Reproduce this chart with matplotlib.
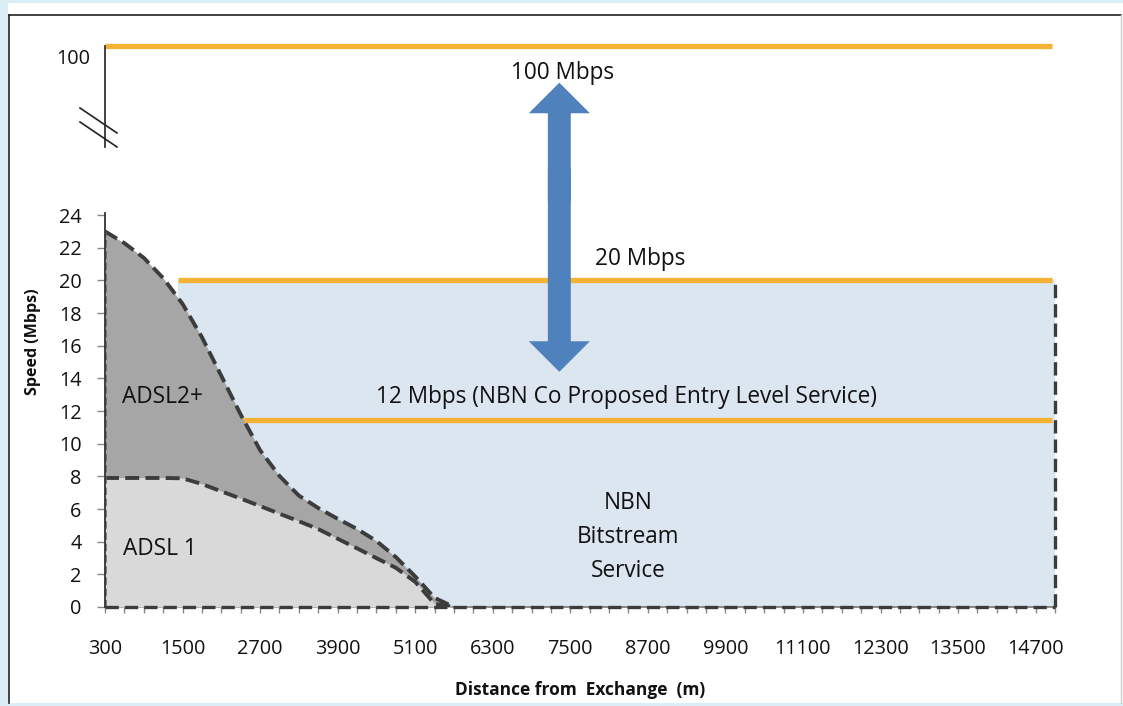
import matplotlib
matplotlib.use("Agg")
import matplotlib.pyplot as plt
import numpy as np
from matplotlib.patches import Rectangle, FancyArrowPatch
from matplotlib.lines import Line2D
from matplotlib.transforms import ScaledTranslation

plt.rcParams['font.family'] = ['Open Sans', 'DejaVu Sans']

# ---------------- data ----------------
distance = [300, 600, 900, 1200, 1500, 1800, 2100, 2400, 2700, 3000,
            3300, 3600, 3900, 4200, 4500, 4800, 5100, 5400, 5700]
adsl2plus = [23.0, 22.28, 21.38, 20.14, 18.56, 16.52, 14.15, 11.78, 9.6, 8.02,
             6.82, 6.06, 5.40, 4.78, 4.04, 3.06, 1.87, 0.56, 0.0]
adsl1 = [7.9, 7.9, 7.9, 7.9, 7.88, 7.53, 7.08, 6.64, 6.18, 5.71,
         5.25, 4.77, 4.18, 3.59, 2.99, 2.40, 1.54, 0.2, 0.0]

nbn_start, nbn_end = 1430, 15000
nbn_top = 20
level_12_start, level_12 = 2390, 11.45
level_20 = 20
level_100 = 100
arrow_x, arrow_low, arrow_high = 7330, 14.4, 83.5

x_tick_labels = [300, 1500, 2700, 3900, 5100, 6300, 7500, 8700, 9900,
                 11100, 12300, 13500, 14700]
y_ticks = [0, 2, 4, 6, 8, 10, 12, 14, 16, 18, 20, 22, 24, 100]

# ---------------- colours ----------------
ORANGE = '#F5B335'
BLUE_FILL = '#DCE6F1'
DARK_FILL = '#A6A6A6'
LIGHT_FILL = '#D9D9D9'
DASH = '#3C3C3C'
ARROW = '#4F81BD'
FRAME_BG = '#DCEEF5'

W, H = 1123, 706
fig = plt.figure(figsize=(W / 100, H / 100), dpi=100, facecolor='white')

def fx(px):
    return px / W

def fy(py):
    return 1 - py / H

# outer frame
fig.patches.append(Rectangle((0, 0), fx(8), 1, transform=fig.transFigure,
                             facecolor=FRAME_BG, edgecolor='none', zorder=0))
fig.patches.append(Rectangle((0, fy(3)), 1, 1 - fy(3), transform=fig.transFigure,
                             facecolor=FRAME_BG, edgecolor='none', zorder=0))
fig.patches.append(Rectangle((0, 0), 1, fy(703), transform=fig.transFigure,
                             facecolor=FRAME_BG, edgecolor='none', zorder=0))
fig.lines.append(Line2D([fx(9), fx(9)], [fy(15), fy(703)], transform=fig.transFigure,
                        color='#222222', lw=1.2))
fig.lines.append(Line2D([fx(9), fx(1121)], [fy(15), fy(15)], transform=fig.transFigure,
                        color='#222222', lw=1.2))
fig.lines.append(Line2D([fx(1121), fx(1121)], [fy(15), fy(703)], transform=fig.transFigure,
                        color='#CCCCCC', lw=1.0))

# axes
ax = fig.add_axes([fx(105), fy(607), fx(1055) - fx(105), fy(46) - fy(607)])
ax.set_facecolor('none')

K = 10.35 / 76.0

def fwd(y):
    y = np.asarray(y, dtype=float)
    return np.where(y <= 24, y, 24 + (y - 24) * K)

def inv(y):
    y = np.asarray(y, dtype=float)
    return np.where(y <= 24, y, 24 + (y - 24) / K)

ax.set_yscale('function', functions=(fwd, inv))
ax.set_xlim(300, 15000)
ax.set_ylim(0, 100)

# NBN region
ax.add_patch(Rectangle((nbn_start, 0), nbn_end - nbn_start, nbn_top,
                       facecolor=BLUE_FILL, edgecolor='none', zorder=1))
ax.plot([nbn_end, nbn_end], [0, nbn_top], color=DASH, lw=2.4,
        dashes=(4, 1.8), zorder=4, clip_on=False)

# orange service levels
ax.plot([nbn_start, nbn_end - 40], [level_20, level_20], color=ORANGE, lw=3.8,
        solid_capstyle='butt', zorder=3)
ax.plot([level_12_start, nbn_end - 40], [level_12, level_12], color=ORANGE, lw=3.8,
        solid_capstyle='butt', zorder=2)
ax.plot([300, nbn_end - 40], [level_100, level_100], color=ORANGE, lw=3.8,
        solid_capstyle='butt', zorder=3, clip_on=False)

# ADSL areas
ax.fill_between(distance, adsl1, adsl2plus, color=DARK_FILL, lw=0, zorder=3)
ax.fill_between(distance, 0, adsl1, color=LIGHT_FILL, lw=0, zorder=3)
ax.plot(distance, adsl2plus, color=DASH, lw=2.8, dashes=(3.6, 1.6), zorder=5,
        dash_joinstyle='round')
ax.plot(distance, adsl1, color=DASH, lw=2.8, dashes=(3.6, 1.6), zorder=5,
        dash_joinstyle='round')
ax.plot([300, 300], [0, adsl2plus[0]], color='#606060', lw=1.8, dashes=(3, 1.5), zorder=5)
ax.plot([300, nbn_end], [0, 0], color=DASH, lw=2.4, dashes=(4, 1.8), zorder=6, clip_on=False)

# double arrow (two overlapping halves)
for ystart, yend in ((45, arrow_low), (30, arrow_high)):
    ax.add_patch(FancyArrowPatch((arrow_x, ystart), (arrow_x, yend),
                                 arrowstyle='simple,head_length=2.2,head_width=4.4,tail_width=1.65',
                                 mutation_scale=10, color=ARROW, lw=0,
                                 shrinkA=0, shrinkB=0, zorder=7, clip_on=False))

# axes spines
for s in ('top', 'right', 'left'):
    ax.spines[s].set_visible(False)
ax.spines['bottom'].set_color('#777777')
ax.spines['bottom'].set_linewidth(1.2)
yax = ax.get_yaxis_transform()
ax.plot([0, 0], [0, 24.9], transform=yax, color='#333333', lw=1.3, clip_on=False, zorder=8)
ax.plot([0, 0], [54.6, 100], transform=yax, color='#333333', lw=1.3, clip_on=False, zorder=8)

# break marks (figure pixels)
for off in (0, 14):
    fig.lines.append(Line2D([fx(80), fx(117)], [fy(108 + off), fy(133 + off)],
                            transform=fig.transFigure, color='#222222', lw=1.2))

# ticks
xt = list(range(300, 15001, 300))
ax.set_xticks(xt)
ax.set_xticklabels([str(v) if v in x_tick_labels else '' for v in xt])
ax.set_yticks(y_ticks)
ax.set_yticklabels([str(v) for v in y_ticks])
ax.tick_params(axis='x', length=4, width=1, color='#888888', pad=19,
               labelsize=14.3, labelcolor='#111111')
ax.tick_params(axis='y', length=6, width=1, color='#888888', pad=11,
               labelsize=14.3, labelcolor='#111111')
ax.yaxis.get_major_ticks()[-1].tick1line.set_visible(False)
lab100 = ax.get_yticklabels()[-1]
lab100.set_transform(lab100.get_transform() +
                     ScaledTranslation(0.09, -0.10, fig.dpi_scale_trans))

# texts
tk = dict(color='#111111', ha='center', va='center')
fs = 16.3
fig.text(fx(563), fy(73), '100 Mbps', fontsize=fs, **tk)
fig.text(fx(640), fy(259), '20 Mbps', fontsize=fs, **tk)
fig.text(fx(626), fy(397), '12 Mbps (NBN Co Proposed Entry Level Service)', fontsize=fs, **tk)
fig.text(fx(162), fy(397), 'ADSL2+', fontsize=fs, **tk)
fig.text(fx(160), fy(549), 'ADSL 1', fontsize=fs, **tk)
fig.text(fx(628), fy(537), 'NBN\nBitstream\nService', fontsize=fs,
         linespacing=1.55, **tk)
fig.text(fx(580), fy(690), 'Distance from  Exchange  (m)', fontsize=12.5,
         fontweight='bold', **tk)
fig.text(fx(33), fy(342), 'Speed (Mbps)', fontsize=11.5, fontweight='bold',
         rotation=90, **tk)

fig.savefig('out.png', dpi=100, facecolor='white')
